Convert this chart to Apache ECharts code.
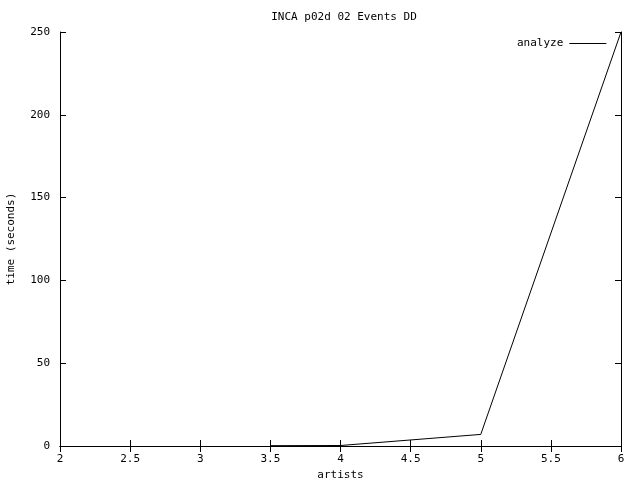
<!DOCTYPE html>
<html><head><meta charset="utf-8">
<script src="https://cdn.jsdelivr.net/npm/echarts@6/dist/echarts.min.js"></script>
<style>html,body{margin:0;padding:0;background:#fff}#c{width:640px;height:480px}</style>
</head><body><div id="c"></div>
<script>
const titleText = "INCA p02d 02 Events DD";
const xName = "artists";
const yName = "time (seconds)";
const seriesName = "analyze";
const artists = [3.5, 4, 5, 6];
const analyzeTimes = [0.2, 0.3, 7, 250];

const font = "DejaVu Sans Mono";
const chart = echarts.init(document.getElementById('c'));
const axisCommon = {
  axisLine: {show: true, lineStyle: {color: '#000', width: 1}},
  axisTick: {show: true, inside: true, length: 6, lineStyle: {color: '#000'}},
  splitLine: {show: false},
  axisLabel: {color: '#000', fontFamily: font, fontSize: 11},
};
chart.setOption({
  animation: false,
  backgroundColor: '#fff',
  title: {text: titleText, left: 339, textAlign: 'center', top: 7,
    textStyle: {fontFamily: font, fontSize: 11, fontWeight: 'normal', color: '#000'}},
  legend: {orient: 'horizontal', left: 512, top: 33, align: 'right', itemWidth: 37, itemHeight: 1, itemGap: 0,
    icon: 'rect', data: [seriesName],
    textStyle: {fontFamily: font, fontSize: 11, color: '#000', padding: [0, 1, 0, 0]}},
  grid: {left: 60, right: 19, top: 32, bottom: 34, containLabel: false, outerBoundsMode: 'none'},
  xAxis: [
    Object.assign({}, axisCommon, {type: 'value', min: 2, max: 6, interval: 0.5,
      name: xName, nameLocation: 'middle', nameGap: 22,
      nameTextStyle: {fontFamily: font, fontSize: 11, color: '#000'},
      axisLabel: {color: '#000', fontFamily: font, fontSize: 11, margin: 8}}),
    Object.assign({}, axisCommon, {type: 'value', min: 2, max: 6, interval: 0.5, position: 'top',
      axisLabel: {show: false}})
  ],
  yAxis: [
    Object.assign({}, axisCommon, {type: 'value', min: 0, max: 250, interval: 50,
      name: yName, nameLocation: 'middle', nameGap: 43,
      nameTextStyle: {fontFamily: font, fontSize: 11, color: '#000'},
      axisLabel: {color: '#000', fontFamily: font, fontSize: 11, margin: 10}}),
    Object.assign({}, axisCommon, {type: 'value', min: 0, max: 250, interval: 50, position: 'right',
      axisLabel: {show: false}})
  ],
  series: [{
    name: seriesName, type: 'line', xAxisIndex: 0, yAxisIndex: 0,
    data: artists.map((a, i) => [a, analyzeTimes[i]]),
    showSymbol: false, symbol: 'none',
    lineStyle: {color: '#000', width: 1}, itemStyle: {color: '#000'}
  }]
});
</script></body></html>
